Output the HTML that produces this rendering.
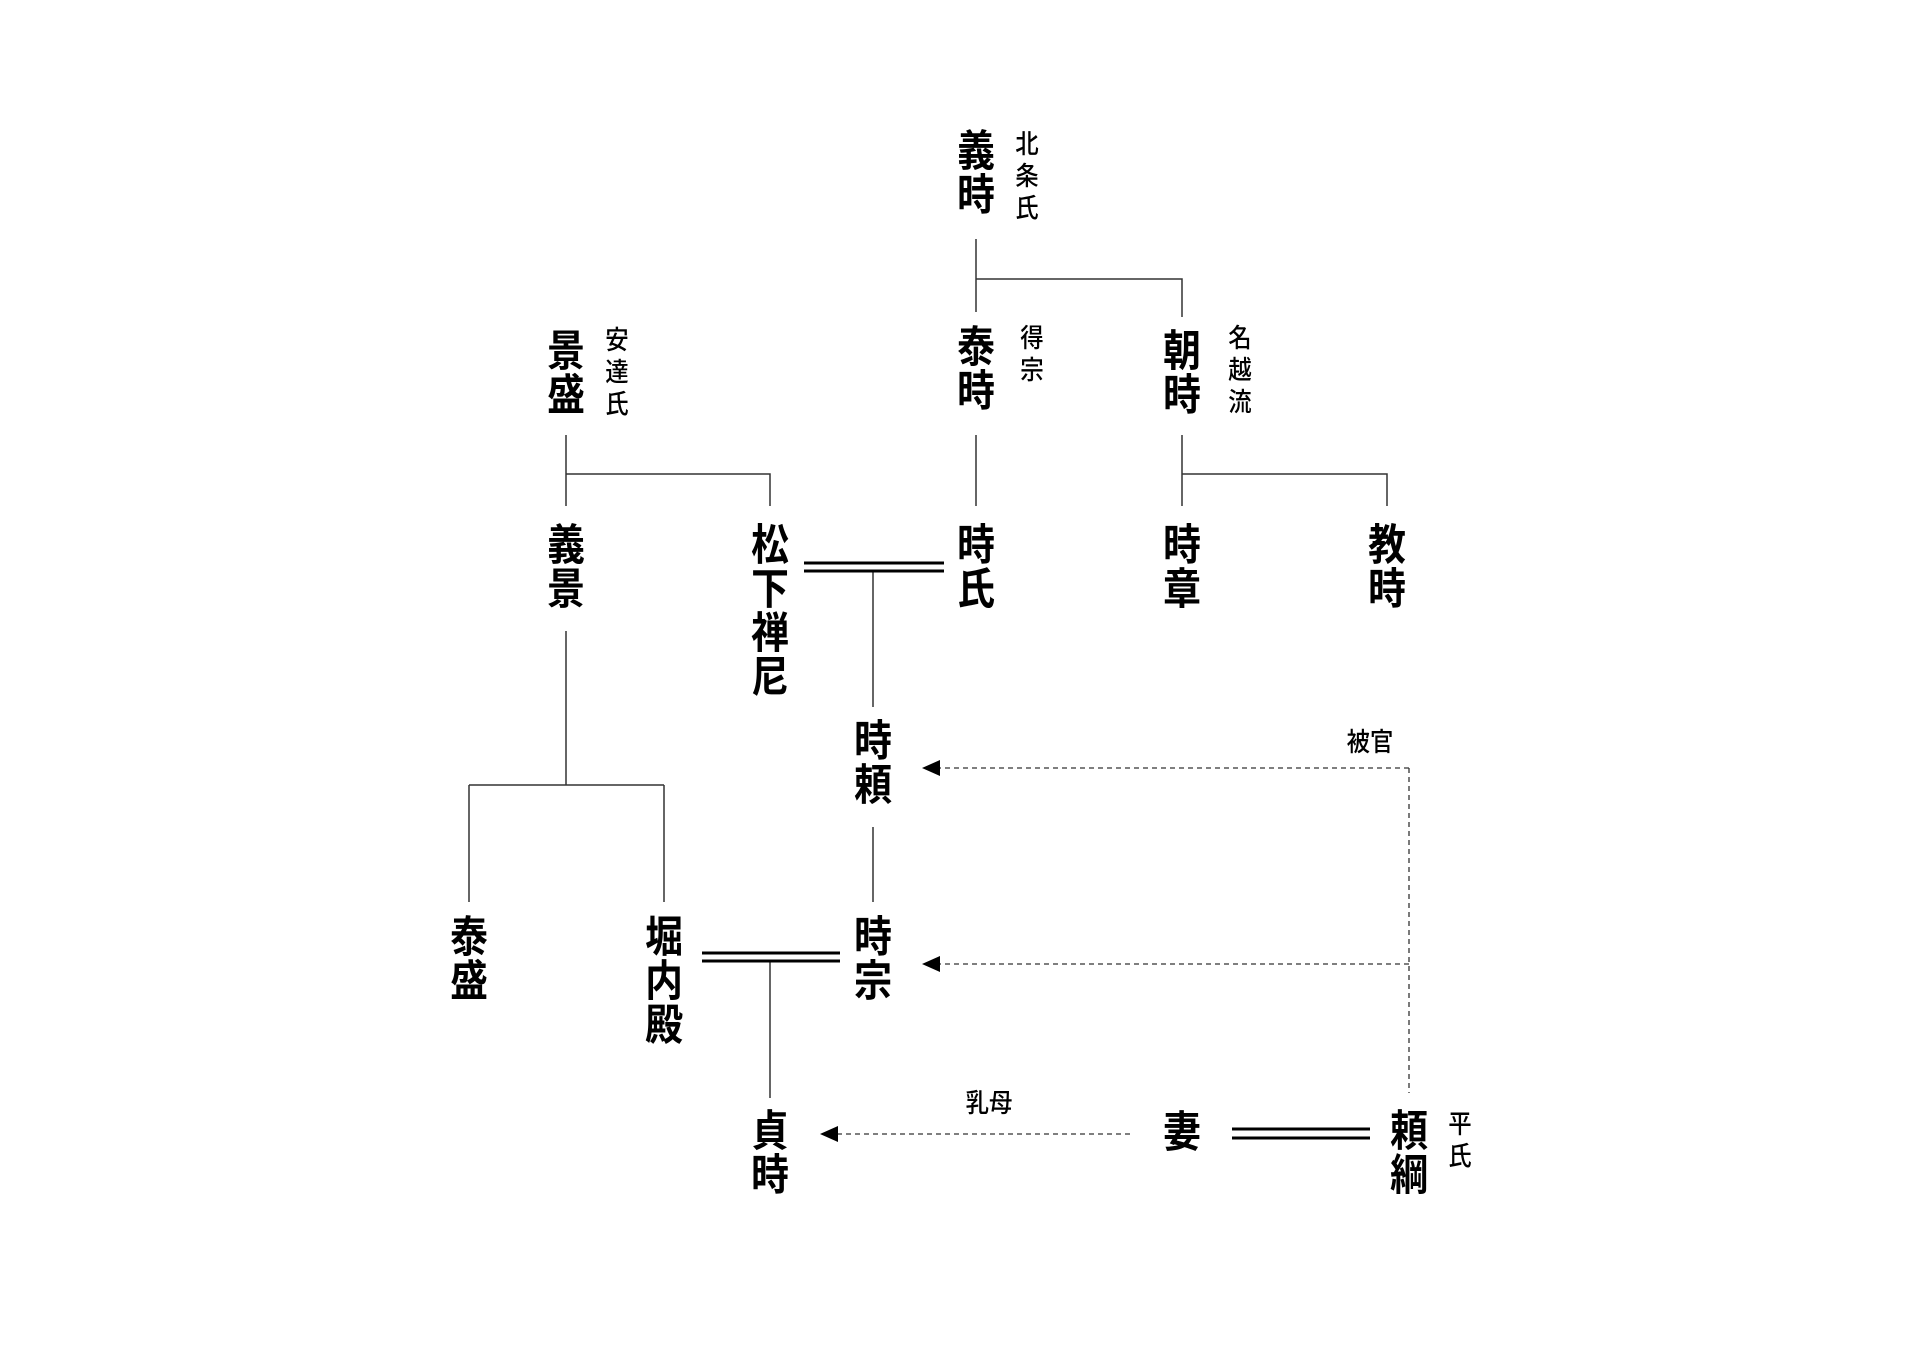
<!DOCTYPE html>
<html><head><meta charset="utf-8">
<style>
html,body{margin:0;padding:0;background:#fff;}
#w{position:relative;width:1920px;height:1356px;overflow:hidden;}
.b{position:absolute;font-family:"Liberation Sans","Noto Sans CJK JP",sans-serif;font-weight:700;font-size:43px;line-height:44px;width:50px;text-align:center;transform:translateX(-25px) scaleX(0.88);color:#000;}
.s{position:absolute;font-family:"Liberation Sans","Noto Sans CJK JP",sans-serif;font-weight:500;font-size:26px;line-height:32px;width:30px;text-align:center;transform:translateX(-15px) scaleX(0.9);color:#000;}
.h{position:absolute;font-family:"Liberation Sans","Noto Sans CJK JP",sans-serif;font-weight:500;font-size:26px;line-height:30px;white-space:nowrap;transform:translateX(-50%) scaleX(0.9);color:#000;}
svg{position:absolute;left:0;top:0;}
</style></head><body><div id="w">
<svg width="1920" height="1356">
<g stroke="#333" stroke-width="1.5" fill="none">
<path d="M976 239V312M976 279H1182V317"/>
<path d="M566 435V506M566 474H770V506"/>
<path d="M976 435V506"/>
<path d="M1182 435V506M1182 474H1387V506"/>
<path d="M873 571V707"/>
<path d="M566 631V785M469 785H664M469 785V902M664 785V902"/>
<path d="M873 827V902"/>
<path d="M770 961V1098"/>
</g>
<g stroke="#000" stroke-width="3">
<path d="M804 563H944M804 571H944"/>
<path d="M702 953H840M702 961H840"/>
<path d="M1232 1129H1370M1232 1138H1370"/>
</g>
<g stroke="#333" stroke-width="1.3" stroke-dasharray="5,4" fill="none">
<path d="M1409 768V1093"/>
<path d="M1409 768H936"/>
<path d="M1409 964H936"/>
<path d="M1130 1134H832"/>
</g>
<g fill="#000">
<path d="M922 768L940 760V776Z"/>
<path d="M922 964L940 956V972Z"/>
<path d="M820 1134L838 1126V1142Z"/>
</g>
</svg>
<div class="b" style="left:976px;top:130px">義<br>時</div>
<div class="s" style="left:1027px;top:128px">北<br>条<br>氏</div>
<div class="b" style="left:566px;top:330px">景<br>盛</div>
<div class="s" style="left:617px;top:324px">安<br>達<br>氏</div>
<div class="b" style="left:976px;top:326px">泰<br>時</div>
<div class="s" style="left:1032px;top:322px">得<br>宗</div>
<div class="b" style="left:1182px;top:330px">朝<br>時</div>
<div class="s" style="left:1240px;top:322px">名<br>越<br>流</div>
<div class="b" style="left:566px;top:524px">義<br>景</div>
<div class="b" style="left:770px;top:524px">松<br>下<br>禅<br>尼</div>
<div class="b" style="left:976px;top:524px">時<br>氏</div>
<div class="b" style="left:1182px;top:524px">時<br>章</div>
<div class="b" style="left:1387px;top:524px">教<br>時</div>
<div class="b" style="left:873px;top:720px">時<br>頼</div>
<div class="h" style="left:1370px;top:727px">被官</div>
<div class="b" style="left:469px;top:916px">泰<br>盛</div>
<div class="b" style="left:664px;top:916px">堀<br>内<br>殿</div>
<div class="b" style="left:873px;top:916px">時<br>宗</div>
<div class="h" style="left:989px;top:1088px">乳母</div>
<div class="b" style="left:770px;top:1110px">貞<br>時</div>
<div class="b" style="left:1182px;top:1111px">妻</div>
<div class="b" style="left:1409px;top:1110px">頼<br>綱</div>
<div class="s" style="left:1460px;top:1108px">平<br>氏</div>
</div></body></html>
